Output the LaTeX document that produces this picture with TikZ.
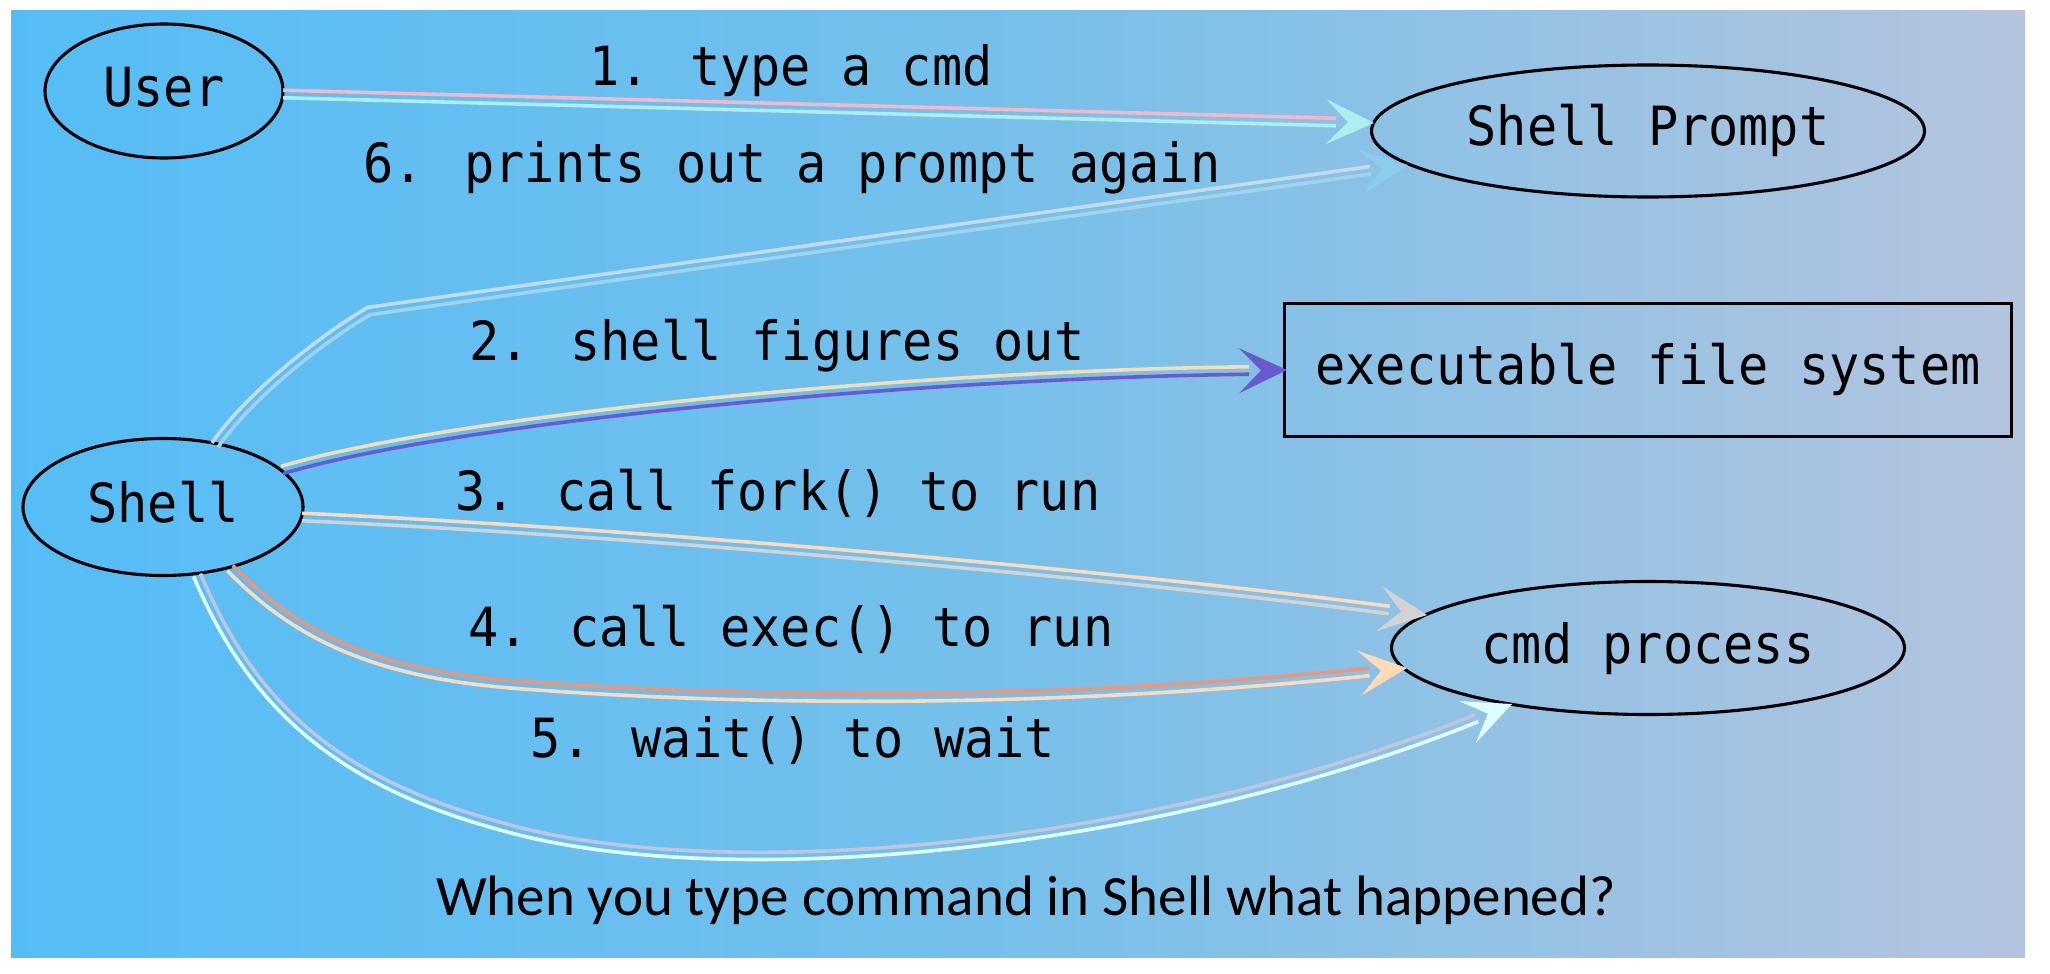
\documentclass[tikz,border=0pt]{standalone}
\usepackage{fontspec}
\newfontfamily\monof[FakeStretch=0.93]{DejaVu Sans Mono}
\newfontfamily\titlef{Carlito}
\usetikzlibrary{arrows.meta,shapes.geometric}
\definecolor{bgL}{RGB}{85,189,246}
\definecolor{bgM}{RGB}{118,192,234}
\definecolor{bgR}{RGB}{180,196,222}
\definecolor{cpink}{RGB}{246,184,200}
\definecolor{cpturq}{RGB}{175,238,238}
\definecolor{csixA}{RGB}{196,220,232}
\definecolor{csixB}{RGB}{160,212,236}
\definecolor{csixT}{RGB}{140,205,236}
\definecolor{cwheat}{RGB}{245,222,179}
\definecolor{cslate}{RGB}{106,90,205}
\definecolor{cpeach}{RGB}{255,218,185}
\definecolor{cgray}{RGB}{211,211,211}
\definecolor{csalmon}{RGB}{233,150,122}
\definecolor{clav}{RGB}{192,198,224}
\definecolor{ccyan}{RGB}{224,255,255}
\tikzset{
  labtxt/.style={font=\monof\fontsize{27}{32}\selectfont, inner sep=0pt},
  lab/.style={labtxt, anchor=base},
  ell/.style={labtxt, draw=black, line width=1.55pt, ellipse, text height=20pt, text depth=5pt},
  fbox/.style={labtxt, draw=black, line width=1.55pt, rectangle, text height=20pt, text depth=6pt},
  stripe/.style={line width=1.8pt, line join=round, shorten >=19pt},
  tipd/.style={line width=0.6pt, -{Stealth[length=24pt,width=22.5pt,inset=11pt]}}
}
\begin{document}
\begin{tikzpicture}[x=0.5pt,y=-0.5pt]
\useasboundingbox (0,0) rectangle (2050,974);
\fill[white] (0,0) rectangle (2050,974);
\fill[left color=bgL,right color=bgR,middle color=bgM] (11,11) rectangle (2025,957);

% nodes
\node[ell, minimum width=119pt, minimum height=67pt] (user) at (164,91) {User};
\node[ell, minimum width=276.5pt, minimum height=66pt] (prompt) at (1648,131) {Shell Prompt};
\node[fbox, minimum width=363.5pt, minimum height=66.5pt] (exe) at (1648,370) {executable file system};
\node[ell, minimum width=140pt, minimum height=68.5pt] (shell) at (163,507) {Shell};
\node[ell, minimum width=256.5pt, minimum height=66.5pt] (cmd) at (1648,648) {cmd process};

% labels
\node[lab] (l1) at (791,86) {1. type a cmd};
\node[lab] (l6) at (792,182) {6. prints out a prompt again};
\node[lab] (l2) at (777,360) {2. shell figures out};
\node[lab] (l3) at (778,510) {3. call fork() to run};
\node[lab] (l4) at (791,646) {4. call exec() to run};
\node[lab] (l5) at (793,757) {5. wait() to wait};
\node[anchor=base, inner sep=0pt, font=\titlef\fontsize{28.5}{34}\selectfont] (title) at (1026,915) {When you type command in Shell what happened?};

% edge 1: user -> prompt
\draw[stripe, cpink]  (283,90.25) -- (1374,119.25);
\draw[stripe, cpturq] (283,97.75) -- (1374,126.75);
\draw[tipd, cpturq] (1354,122.47) -- (1374,123);

% edge 6: shell -> prompt
\draw[stripe, csixA] (211.93,442.85) .. controls (246.93,392.85) and (318.09,336.77) .. (367.73,307.38) -- (1407.48,161.29);
\draw[stripe, csixB] (218.07,447.15) .. controls (253.07,397.15) and (321.91,343.23) .. (370.27,314.62) -- (1408.52,168.71);
\draw[tipd, csixT] (1388.2,167.78) -- (1408,165);

% edge 2: shell -> exe
\draw[stripe, cwheat] (280.93,466.41) .. controls (448.93,416.41) and (899.95,371.25) .. (1286.95,366.25);
\draw[stripe, cslate] (283.07,473.59) .. controls (451.07,423.59) and (900.05,378.75) .. (1287.05,373.75);
\draw[tipd, cslate] (1267,370.26) -- (1287,370);

% edge 3: shell -> cmd
\draw[stripe, cpeach] (302.16,513.25) .. controls (600.16,526.25) and (1100.49,568.28) .. (1427.49,611.28);
\draw[stripe, cgray]  (301.84,520.75) .. controls (599.84,533.75) and (1099.51,575.72) .. (1426.51,618.72);
\draw[tipd, cgray] (1407.17,612.39) -- (1427,615);

% edge 4: shell -> cmd
\draw[stripe, csalmon] (232.69,565.39) .. controls (302.69,637.39) and (380.28,670.76) .. (520.28,681.26) .. controls (800.28,702.26) and (1099.61,696.27) .. (1406.61,664.27);
\draw[stripe, cpeach] (227.31,570.61) .. controls (297.31,642.61) and (379.72,678.24) .. (519.72,688.74) .. controls (799.72,709.74) and (1100.39,703.73) .. (1407.39,671.73);
\draw[tipd, cpeach] (1387.1,670.07) -- (1407,668);

% edge 5: shell -> cmd
\draw[stripe, clav] (200.45,573.54) .. controls (253.45,698.54) and (330.99,776.38) .. (500.99,822.38) .. controls (720.99,886.38) and (1148.6,846.52) .. (1510.6,700.52);
\draw[stripe, ccyan] (193.55,576.46) .. controls (246.55,701.46) and (329.01,783.62) .. (499.01,829.62) .. controls (719.01,893.62) and (1151.4,853.48) .. (1513.4,707.48);
\draw[tipd, ccyan] (1493.45,711.48) -- (1512,704);
\end{tikzpicture}
\end{document}
